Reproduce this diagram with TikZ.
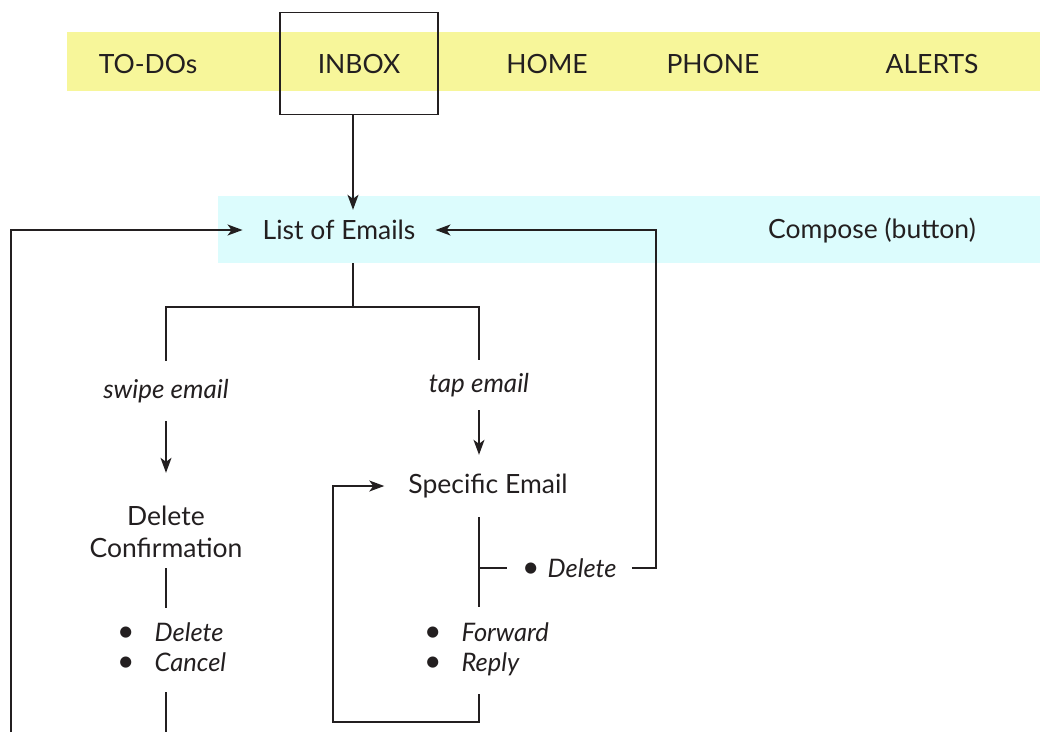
\documentclass[tikz,border=0pt]{standalone}
\usepackage{fontspec}
\setmainfont{Lato}
\usetikzlibrary{arrows.meta, positioning}
\definecolor{menuyellow}{HTML}{F7F69A}
\definecolor{screencyan}{HTML}{DCFCFD}
\definecolor{ink}{HTML}{231F20}
\newcommand{\optdot}{{\fontsize{30}{30}\selectfont\textbullet}}
\tikzset{
    tab/.style={text=ink, font=\fontsize{26.5}{30}\selectfont, inner sep=0pt},
    screen/.style={text=ink, font=\fontsize{26.5}{32}\selectfont, align=center},
    gesture/.style={text=ink, font=\fontsize{26}{30}\selectfont\itshape, align=center},
    options/.style={text=ink, font=\fontsize{25.5}{30}\selectfont, anchor=west, inner xsep=0pt},
    link/.style={draw=ink, line width=1.5pt},
    arrow/.style={link, -{Stealth[length=15pt, width=11pt, inset=4pt]}}
}

\begin{document}
\begin{tikzpicture}[x=1pt, y=-1pt]
    \useasboundingbox (0,0) rectangle (1040,732);

    % Bars
    \node[fill=menuyellow, minimum width=973, minimum height=59, inner sep=0pt] (menubar) at (553.5,61.5) {};
    \node[fill=screencyan, minimum width=822, minimum height=67, inner sep=0pt] (screenbar) at (629,229.5) {};

    % Tabs
    \node[tab] (todos) at (148,64) {TO-DOs};
    \node[tab, draw=ink, line width=1.2pt, minimum width=158, minimum height=102] (inbox) at (359,63.5) {INBOX};
    \node[tab] (home) at (547,64) {HOME};
    \node[tab] (phone) at (713,64) {PHONE};
    \node[tab] (alerts) at (932,64) {ALERTS};

    % Screens and gestures
    \node[screen, minimum height=40, inner xsep=20pt] (list) at (339,230) {List of Emails};
    \node[screen] (compose) at (872,230) {Compose (button)};
    \node[gesture, minimum height=60] (swipe) at (166,391) {swipe email};
    \node[gesture, minimum height=50] (tap) at (479,385) {tap email};
    \node[screen, minimum height=118] (delconf) at (166,532) {Delete\\Confirmation};
    \node[screen, minimum height=62, inner xsep=24pt] (specific) at (488,486) {Specific Email};

    % Options
    \node[options, minimum height=84] (delopts) at (117,650) {\begin{tabular}{@{}l@{\hspace{20pt}}l@{}}\optdot & \textit{Delete}\\ \optdot & \textit{Cancel}\end{tabular}};
    \node[options, minimum height=87] (specopts) at (424,650.5) {\begin{tabular}{@{}l@{\hspace{20pt}}l@{}}\optdot & \textit{Forward}\\ \optdot & \textit{Reply}\end{tabular}};
    \node[options, inner xsep=15pt] (specdel) at (507,568) {\optdot\hspace{8pt}\textit{Delete}};

    % Free ends
    \coordinate (fork) at (353,307);
    \coordinate (leftend) at (11,732);
    \coordinate (delend) at (166,732);
    \coordinate (loopcorner) at (333,722);
    \coordinate (backcol) at (656,568);

    % Arrows
    \draw[arrow] (inbox.south -| fork) -- (list.north -| fork);
    \draw[link] (screenbar.south -| fork) -- (fork);
    \draw[link] (swipe.north) |- (fork) -| (tap.north);
    \draw[arrow] (swipe.south) -- (delconf.north);
    \draw[link] ([yshift=23pt]delconf.south) -- (delopts.north -| delconf.south);
    \draw[link] (delopts.south -| delconf.south) -- (delend);
    \draw[arrow] (leftend) |- (list.west);
    \draw[arrow] (tap.south) -- (tap.south |- specific.north);
    \draw[link] (tap.south |- specific.south) -- (tap.south |- specopts.north);
    \draw[link] (tap.south |- specdel.west) -- (specdel.west);
    \draw[arrow] (specdel.east) -| (backcol |- list.east) -- (list.east);
    \draw[arrow] (tap.south |- specopts.south) |- (loopcorner) |- (specific.west);

\end{tikzpicture}
\end{document}
